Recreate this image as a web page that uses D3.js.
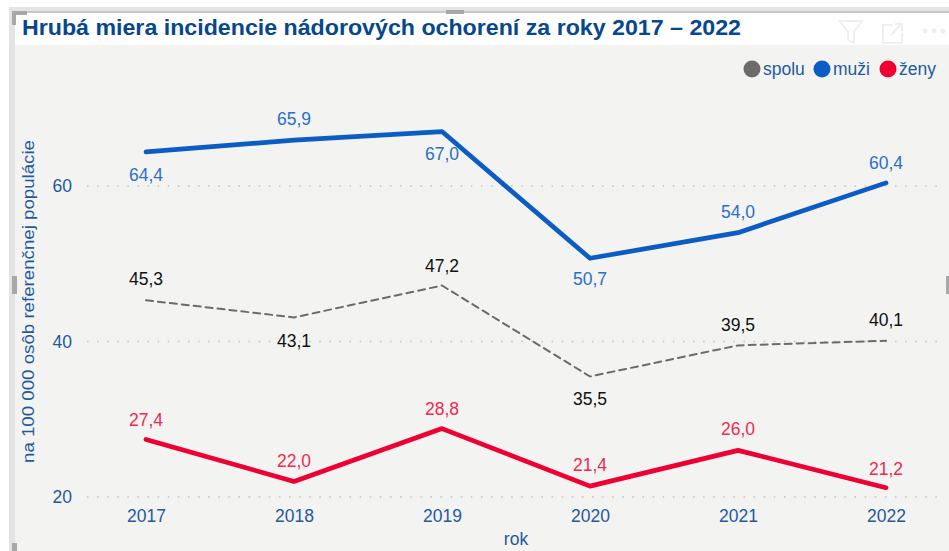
<!DOCTYPE html>
<html>
<head>
<meta charset="utf-8">
<script src="https://cdn.jsdelivr.net/npm/d3@7"></script>
<style>
  html, body { margin: 0; padding: 0; background: #fff; }
  svg { display: block; }
  text { font-family: "Liberation Sans", Arial, sans-serif; }
</style>
</head>
<body>
<svg id="chart" width="949" height="551"></svg>
<script>
const years = ['2017', '2018', '2019', '2020', '2021', '2022'];
const spolu = [45.3, 43.1, 47.2, 35.5, 39.5, 40.1];
const muzi = [64.4, 65.9, 67.0, 50.7, 54.0, 60.4];
const zeny = [27.4, 22.0, 28.8, 21.4, 26.0, 21.2];
const yTicks = [20, 40, 60];

const titleText = 'Hrubá miera incidencie nádorových ochorení za roky 2017 – 2022';
const yTitle = 'na 100 000 osôb referenčnej populácie';
const xTitle = 'rok';

const blue = '#0b5cc4';
const red = '#ee0033';
const grey = '#6b6b6b';
const axisBlue = '#1f5a9e';
const labelSize = 17.5;

const svg = d3.select('#chart');

const xScale = d3.scalePoint().domain(years).range([146, 886]);
const yScale = d3.scaleLinear().domain([20, 60]).range([497, 186]);

// panel + frame
svg.append('rect').attr('width', 949).attr('height', 551).attr('fill', '#fff');
svg.append('rect').attr('x', 9).attr('y', 7).attr('width', 940).attr('height', 544).attr('fill', '#e4e4e4');
svg.append('rect').attr('x', 15).attr('y', 12).attr('width', 934).attr('height', 539).attr('fill', '#f3f3f2');
svg.append('rect').attr('x', 15).attr('y', 13).attr('width', 934).attr('height', 32).attr('fill', '#fff');
svg.append('rect').attr('x', 15).attr('y', 11).attr('width', 934).attr('height', 2).attr('fill', '#c8c8c8');
svg.append('path').attr('d', 'M12 25V11H27V15H16V25Z').attr('fill', '#a8a8a8');
svg.append('rect').attr('x', 12).attr('y', 276).attr('width', 5).attr('height', 18).attr('fill', '#a8a8a8');
svg.append('rect').attr('x', 12).attr('y', 543).attr('width', 5).attr('height', 8).attr('fill', '#a8a8a8');
svg.append('rect').attr('x', 446).attr('y', 10).attr('width', 18).attr('height', 4).attr('fill', '#a8a8a8');
svg.append('rect').attr('x', 946).attr('y', 276).attr('width', 3).attr('height', 18).attr('fill', '#a8a8a8');

svg.append('text')
  .attr('x', 22).attr('y', 35)
  .attr('font-size', 21.5).attr('font-weight', 700)
  .attr('fill', '#06478f')
  .attr('textLength', 719).attr('lengthAdjust', 'spacingAndGlyphs')
  .text(titleText);

// faint visual header icons
const icons = svg.append('g').attr('fill', 'none').attr('stroke', '#efefef').attr('stroke-width', 2);
icons.append('path').attr('d', 'M840 21H862L854 32V43L848 40V32Z');
icons.append('path').attr('d', 'M893 25H883V43H902V33M891 35L901 24M895 24H902V31');
icons.append('g').selectAll('circle').data([0, 1, 2]).join('circle')
  .attr('cx', (d) => 925 + d * 9).attr('cy', 31).attr('r', 1.5).attr('fill', '#efefef');

// gridlines
svg.append('g').selectAll('line').data(yTicks).join('line')
  .attr('x1', 87).attr('x2', 945)
  .attr('y1', (d) => yScale(d)).attr('y2', (d) => yScale(d))
  .attr('stroke', '#c4c4c4').attr('stroke-width', 1.5)
  .attr('stroke-dasharray', '1.5 8.6');

// axes
const yAxis = svg.append('g').attr('transform', 'translate(72,0)')
  .call(d3.axisLeft(yScale).tickValues(yTicks).tickSize(0).tickPadding(0));
const xAxis = svg.append('g').attr('transform', 'translate(0,516)')
  .call(d3.axisBottom(xScale).tickSize(0).tickPadding(0));
[yAxis, xAxis].forEach((a) => {
  a.select('.domain').remove();
  a.selectAll('text').attr('fill', axisBlue).attr('font-size', labelSize)
    .attr('font-family', '"Liberation Sans", Arial, sans-serif');
});
yAxis.selectAll('text').attr('dy', '0.32em');
xAxis.selectAll('text').attr('dy', '0.32em').attr('y', 0);

svg.append('text').attr('x', 516).attr('y', 545).attr('text-anchor', 'middle')
  .attr('font-size', labelSize).attr('fill', axisBlue).text(xTitle);
svg.append('text').attr('transform', 'translate(34,463) rotate(-90)')
  .attr('font-size', 16).attr('fill', axisBlue)
  .attr('textLength', 323).attr('lengthAdjust', 'spacingAndGlyphs')
  .text(yTitle);

// series
const line = d3.line().x((d, i) => xScale(years[i])).y((d) => yScale(d));
const comma = (v) => v.toFixed(1).replace('.', ',');

const series = [
  { key: 'spolu', values: spolu, color: grey, width: 2, dash: '7 5', text: '#111', off: [-21, 23, -20, 22, -21, -21] },
  { key: 'muži', values: muzi, color: blue, width: 4.7, dash: null, text: '#2a6fc9', off: [23, -21, 22, 21, -21, -20] },
  { key: 'ženy', values: zeny, color: red, width: 4.7, dash: null, text: '#ee2a4f', off: [-20, -21, -20, -21, -21, -19] },
];

series.forEach((s) => {
  svg.append('path')
    .attr('d', line(s.values))
    .attr('fill', 'none')
    .attr('stroke', s.color)
    .attr('stroke-width', s.width)
    .attr('stroke-linecap', 'round')
    .attr('stroke-linejoin', 'round')
    .attr('stroke-dasharray', s.dash);
  svg.append('g').selectAll('text').data(s.values).join('text')
    .attr('x', (d, i) => xScale(years[i]))
    .attr('y', (d, i) => yScale(d) + s.off[i])
    .attr('dy', '0.35em')
    .attr('text-anchor', 'middle')
    .attr('font-size', labelSize)
    .attr('fill', s.text)
    .text(comma);
});

// legend
const legendX = [752, 822, 888];
const legend = svg.append('g').selectAll('g').data(series).join('g')
  .attr('transform', (d, i) => `translate(${legendX[i]},69)`);
legend.append('circle').attr('r', 8.5).attr('fill', (d) => d.color);
legend.append('text').attr('x', 11).attr('dy', '0.35em')
  .attr('font-size', labelSize).attr('fill', axisBlue).text((d) => d.key);
</script>
</body>
</html>
